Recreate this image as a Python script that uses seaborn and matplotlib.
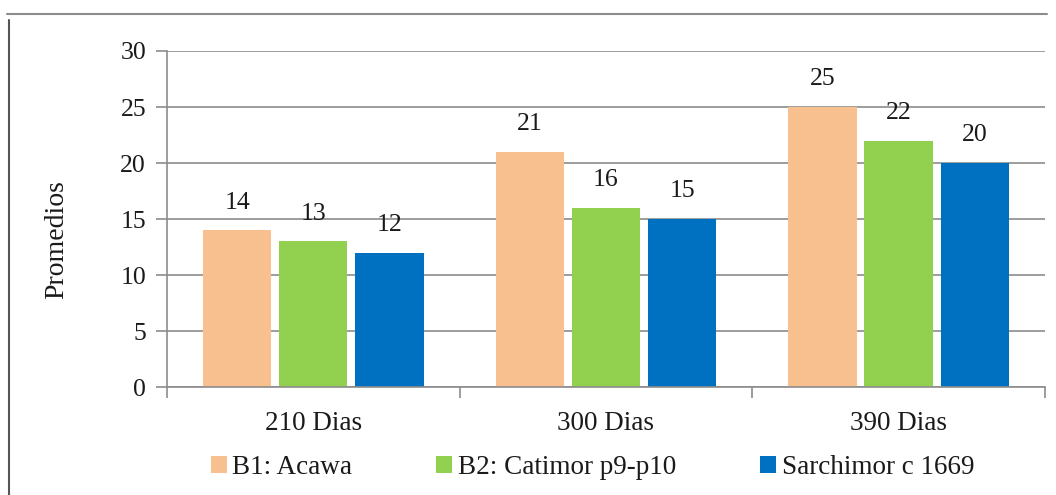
import matplotlib
matplotlib.use("Agg")
import matplotlib.pyplot as plt
from matplotlib.lines import Line2D
from matplotlib.patches import Patch
import seaborn as sns
import pandas as pd

# Data: average values per variety at each sampling date
periods = ["210 Dias", "300 Dias", "390 Dias"]
varieties = ["B1: Acawa", "B2: Catimor p9-p10", "Sarchimor c 1669"]
acawa = [14, 21, 25]
catimor = [13, 16, 22]
sarchimor = [12, 15, 20]
colors = ["#F8BF8F", "#92D050", "#0070C0"]

rows = []
for var, vals in zip(varieties, [acawa, catimor, sarchimor]):
    for p, v in zip(periods, vals):
        rows.append({"Periodo": p, "Variedad": var, "Promedio": v})
df = pd.DataFrame(rows)

sns.set_theme(style="white")
serif = ["Liberation Serif", "DejaVu Serif"]
plt.rcParams["font.family"] = serif
FS = 18.5

fig = plt.figure(figsize=(10.56, 4.95), dpi=100)
ax = fig.add_axes([0.158, 0.218, 0.8316, 0.679])

sns.barplot(data=df, x="Periodo", y="Promedio", hue="Variedad",
            order=periods, hue_order=varieties, palette=colors,
            width=0.78, gap=0.1, saturation=1, legend=False, ax=ax,
            edgecolor="none")

for cont in ax.containers:
    ax.bar_label(cont, fmt="%d", padding=12, fontsize=FS, color="#1a1a1a")

ax.set_ylim(0, 30)
ax.set_yticks(range(0, 31, 5))
ax.set_xlim(-0.5, 2.5)
ax.yaxis.grid(True, color="#8c8c8c", linewidth=1.2)
ax.set_axisbelow(True)
for s in ["top", "right"]:
    ax.spines[s].set_visible(False)
for s in ["left", "bottom"]:
    ax.spines[s].set_color("#8c8c8c")
    ax.spines[s].set_linewidth(1.2)

ax.tick_params(axis="y", length=8, width=1.2, color="#8c8c8c", direction="out",
               labelsize=FS, labelcolor="#1a1a1a", pad=7, left=True)
ax.tick_params(axis="x", which="major", length=0, labelsize=FS + 1,
               labelcolor="#1a1a1a", pad=17)
ax.set_xticks([-0.5, 0.5, 1.5, 2.5], minor=True)
ax.tick_params(axis="x", which="minor", length=8, width=1.2, color="#8c8c8c",
               direction="out", bottom=True)

ax.set_xlabel("")
ax.set_ylabel("Promedios", fontsize=FS + 1.5, color="#1a1a1a")
ax.yaxis.set_label_coords(-0.111, 0.44)

handles = [Patch(facecolor=c, edgecolor="none") for c in colors]
fig.legend(handles, varieties, loc="center", bbox_to_anchor=(0.561, 0.055),
           ncol=3, frameon=False, prop={"size": FS + 1},
           labelcolor="#1a1a1a",
           handlelength=0.6, handleheight=0.6, handletextpad=0.2,
           columnspacing=3.1)

# Frame lines around the chart area
fig.add_artist(Line2D([7 / 1056, 1047 / 1056], [1 - 14 / 495, 1 - 14 / 495],
                      color="#8c8c8c", linewidth=1.5))
fig.add_artist(Line2D([9 / 1056, 9 / 1056], [0, 1 - 20 / 495],
                      color="#555555", linewidth=1.5))

fig.savefig("out.png", dpi=100)
